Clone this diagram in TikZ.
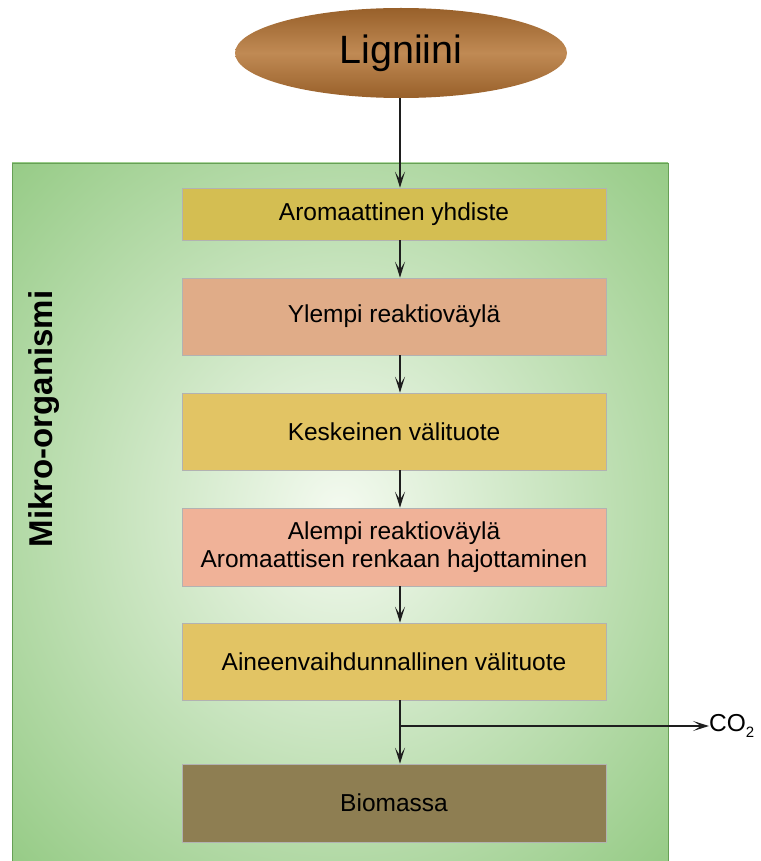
\documentclass[tikz,border=0pt]{standalone}
\usepackage{fontspec}
\setmainfont{Liberation Sans}
\usetikzlibrary{arrows.meta,shapes.geometric}
\definecolor{cellgreen}{RGB}{120,188,100}
\definecolor{celllight}{RGB}{244,250,240}
\definecolor{aromatic}{RGB}{212,190,82}
\definecolor{compound}{RGB}{226,196,100}
\definecolor{upperpath}{RGB}{224,172,136}
\definecolor{lowerpath}{RGB}{240,178,152}
\definecolor{biomass}{RGB}{142,126,82}
\definecolor{lignin}{RGB}{152,96,42}
\definecolor{ligninlight}{RGB}{192,138,84}
\definecolor{flowline}{RGB}{30,30,30}
\pgfdeclareradialshading{cellshade}{\pgfpoint{0bp}{0bp}}{color(0bp)=(celllight);color(47bp)=(cellgreen);color(50bp)=(cellgreen)}
\tikzset{stage/.style={draw=black!30,line width=0.6pt,minimum width=424pt,minimum height=77pt,
                       inner sep=0pt,align=center,font=\fontsize{24.5}{28}\selectfont},
         flow/.style={draw=flowline,line width=1.5pt,-{Stealth[length=16pt,width=10pt,inset=8pt]}},
         substrate/.style={ellipse,minimum width=332pt,minimum height=90pt,inner sep=0pt,
                           top color=lignin,bottom color=lignin,middle color=ligninlight,
                           font=\fontsize{39.5}{42}\selectfont}}

\begin{document}
\begin{tikzpicture}[x=1pt,y=-1pt]
  \useasboundingbox (0,0) rectangle (760,861);
  \shade[shading=cellshade,draw=cellgreen!85!black,line width=0.6pt] (12,163) rectangle (668,861);
  \node[rotate=90,font=\fontsize{33}{35}\selectfont\bfseries] (cell) at (44,419) {Mikro-organismi};
  \node[substrate] (lig) at (401,53) {Ligniini};
  \node[stage,fill=aromatic,minimum height=52pt] (arom) at (394,214) {Aromaattinen yhdiste};
  \node[stage,fill=upperpath] (upper) at (394,316.5) {Ylempi reaktioväylä};
  \node[stage,fill=compound] (central) at (394,431.5) {Keskeinen välituote};
  \node[stage,fill=lowerpath,minimum height=78pt] (lower) at (394,547) {Alempi reaktioväylä\\Aromaattisen renkaan hajottaminen};
  \node[stage,fill=compound] (meta) at (394,661.5) {Aineenvaihdunnallinen välituote};
  \node[stage,fill=biomass,minimum height=78pt] (bio) at (394,803) {Biomassa};
  \node[anchor=west,inner sep=0pt,font=\fontsize{24.5}{26}\selectfont] (co2) at (709,726) {CO\raisebox{-0.45ex}{\fontsize{15}{15}\selectfont 2}};
  \coordinate (spine) at (400,0);
  \coordinate (split) at (400,726);
  \draw[flow] (lig.south -| spine) -- (arom.north -| spine);
  \draw[flow] (arom.south -| spine) -- (upper.north -| spine);
  \draw[flow] (upper.south -| spine) -- (central.north -| spine);
  \draw[flow] (central.south -| spine) -- (lower.north -| spine);
  \draw[flow] (lower.south -| spine) -- (meta.north -| spine);
  \draw[flow] (meta.south -| spine) -- (bio.north -| spine);
  \draw[flow] (split) -- (co2.west);
\end{tikzpicture}
\end{document}
